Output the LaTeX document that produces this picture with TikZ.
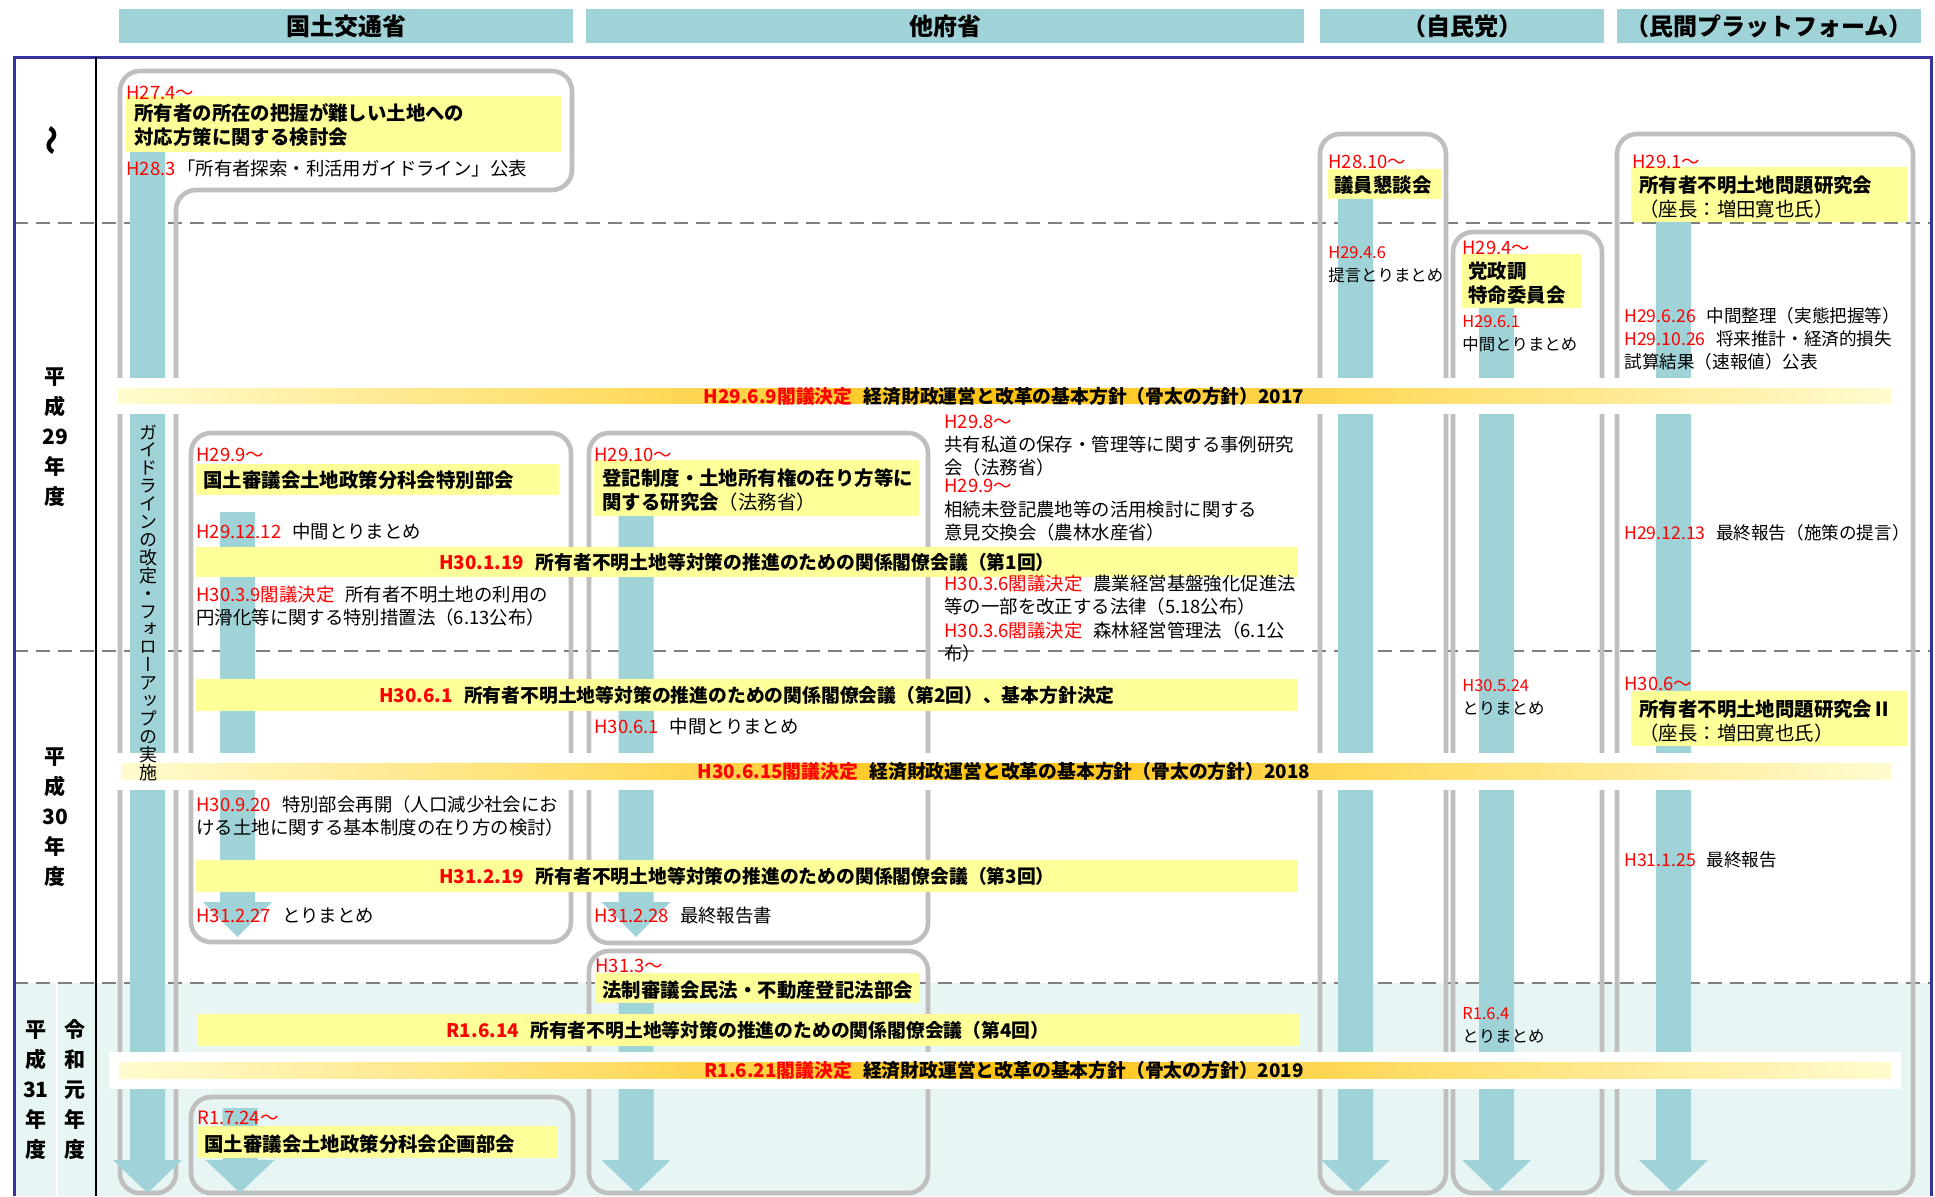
\documentclass[tikz,border=0pt]{standalone}
\usepackage{fontspec}
\usepackage{graphicx}
\setmainfont{Noto Sans CJK JP}
\newfontfamily\vjp[RawFeature={+vert}]{Noto Sans CJK JP}

\definecolor{jred}{HTML}{FF0000}
\definecolor{barc}{HTML}{A0D3D7}
\definecolor{ylw}{HTML}{FFFF99}
\definecolor{boxgray}{HTML}{BFBFBF}
\definecolor{navy}{HTML}{333399}
\definecolor{bgc}{HTML}{E8F5F5}
\definecolor{gpale}{HTML}{FFFCD0}
\definecolor{gorange}{HTML}{FFC20E}
\definecolor{dashg}{HTML}{808080}

\newcommand\hdate[1]{\textcolor{jred}{#1}\hspace{.6em}}
\newcommand\cyanbar[4]{\fill[barc] ({#1-17.5},#2) -- ({#1+17.5},#2) -- ({#1+17.5},#3) -- ({#1+34.5},#3) -- (#1,#4) -- ({#1-34.5},#3) -- ({#1-17.5},#3) -- cycle;}

\tikzset{
  hdr/.style={fill=barc, minimum height=17pt, inner sep=0pt, font=\fontsize{12}{14}\selectfont\bfseries},
  txt/.style={anchor=west, inner sep=0pt, align=left, font=\fontsize{9.2}{11.5}\selectfont},
  txtsm/.style={txt, font=\fontsize{8.2}{11.5}\selectfont},
  txtmd/.style={txt, font=\fontsize{8.8}{11.5}\selectfont},
  dlbl/.style={txt, text=jred},
  ttl/.style={txt, font=\fontsize{9.7}{12}\selectfont\bfseries},
  bandtxt/.style={inner sep=0pt, font=\fontsize{9.4}{11}\selectfont\bfseries},
  yrlbl/.style={inner sep=0pt, align=center, font=\fontsize{10.5}{15}\selectfont\bfseries},
  vtxt/.style={anchor=north, inner sep=0pt, align=center, font={\vjp\fontsize{9}{8.95}\selectfont}},
  boxline/.style={draw=boxgray, line width=2.3pt, rounded corners=10pt},
  ydash/.style={draw=dashg, line width=1.4pt, dash pattern=on 7pt off 4pt},
  gband/.style={draw=white, line width=5pt, left color=gpale, right color=gpale, middle color=gorange},
}

\begin{document}
\begin{tikzpicture}[x=0.5pt,y=-0.5pt]
    \useasboundingbox (0,0) rectangle (1935,1196);
    \fill[bgc] (14,983) rectangle (1931,1196);
    \draw[white, line width=0.8pt] (57,983) -- (57,1196);
    \draw[ydash] (14,223) -- (1931,223);
    \draw[ydash] (14,651) -- (1931,651);
    \draw[ydash] (14,983) -- (1931,983);
    \draw[navy, line width=1.5pt] (14,1196) -- (14,57) -- (1931,57) -- (1931,1196);
    \draw[line width=0.8pt] (96,57) -- (96,1196);

    \node[hdr, minimum width=227pt] (hMLIT) at (346,26) {国土交通省};
    \node[hdr, minimum width=359pt] (hGov) at (945,26) {他府省};
    \node[hdr, minimum width=142pt] (hLDP) at (1462,26) {（自民党）};
    \node[hdr, minimum width=152pt] (hPF) at (1769,26) {（民間プラットフォーム）};

    \node[inner sep=0pt, font=\fontsize{15}{15}\selectfont\bfseries] (r28) at (49,140) {\rotatebox{-90}{～}};
    \node[yrlbl] (r29) at (55,437) {平\\成\\29\\年\\度};
    \node[yrlbl] (r30) at (55,817) {平\\成\\30\\年\\度};
    \node[yrlbl] (r31) at (36,1090) {平\\成\\31\\年\\度};
    \node[yrlbl] (rR1) at (75,1090) {令\\和\\元\\年\\度};

    \draw[boxline] (120,1193) -- (120,71) -- (572,71) -- (572,190) -- (176,190) -- (176,1193) -- cycle;
    \draw[boxline] (191,433) rectangle (571,942);
    \draw[boxline] (191,1097) rectangle (573,1193);
    \draw[boxline] (589,433) rectangle (928,943);
    \draw[boxline] (589,951) rectangle (928,1193);
    \draw[boxline] (1320,134) rectangle (1446,1193);
    \draw[boxline] (1453,232) rectangle (1602,1193);
    \draw[boxline] (1617,134) rectangle (1913,1193);

    \cyanbar{147.5}{148}{1160}{1193}
    \cyanbar{237.5}{512}{902}{937}
    \cyanbar{240}{1108}{1160}{1193}
    \cyanbar{636}{514}{902}{937}
    \cyanbar{636}{1001}{1160}{1193}
    \cyanbar{1355.5}{197}{1160}{1193}
    \cyanbar{1496.5}{306}{1160}{1193}
    \cyanbar{1673.5}{220}{1160}{1193}

    \fill[ylw] (126,96) rectangle (561,152);
    \fill[ylw] (196,464) rectangle (559,495);
    \fill[ylw] (197,1126) rectangle (558,1158);
    \fill[ylw] (594,460) rectangle (919,516);
    \fill[ylw] (595,973) rectangle (920,1003);
    \fill[ylw] (1328,169) rectangle (1441,199);
    \fill[ylw] (1462,254) rectangle (1581,308);
    \fill[ylw] (1631,167) rectangle (1907,222);
    \fill[ylw] (1631,691) rectangle (1907,746);
    \fill[ylw] (196,547) rectangle (1298,577);
    \fill[ylw] (196,679) rectangle (1298,711);
    \fill[ylw] (196,860) rectangle (1298,892);
    \fill[ylw] (197,1014) rectangle (1299,1046);

    \path[gband] (113,383) rectangle (1896,409);
    \path[gband] (116,758) rectangle (1896,785);
    \path[gband] (114,1057) rectangle (1896,1084);

    \node[bandtxt] (hone17) at (1004,396) {\textcolor{jred}{H29.6.9閣議決定}\hspace{.6em}経済財政運営と改革の基本方針（骨太の方針）2017};
    \node[bandtxt] (hone18) at (1004,771) {\textcolor{jred}{H30.6.15閣議決定}\hspace{.6em}経済財政運営と改革の基本方針（骨太の方針）2018};
    \node[bandtxt] (hone19) at (1004,1070) {\textcolor{jred}{R1.6.21閣議決定}\hspace{.6em}経済財政運営と改革の基本方針（骨太の方針）2019};
    \node[bandtxt] (kaigi1) at (747,562) {\textcolor{jred}{H30.1.19}\hspace{.6em}所有者不明土地等対策の推進のための関係閣僚会議（第1回）};
    \node[bandtxt] (kaigi2) at (747,695) {\textcolor{jred}{H30.6.1}\hspace{.6em}所有者不明土地等対策の推進のための関係閣僚会議（第2回）、基本方針決定};
    \node[bandtxt] (kaigi3) at (747,876) {\textcolor{jred}{H31.2.19}\hspace{.6em}所有者不明土地等対策の推進のための関係閣僚会議（第3回）};
    \node[bandtxt] (kaigi4) at (748,1030) {\textcolor{jred}{R1.6.14}\hspace{.6em}所有者不明土地等対策の推進のための関係閣僚会議（第4回）};

    \node[dlbl] (d274) at (126,93) {H27.4～};
    \node[ttl] (kentou) at (134,125) {所有者の所在の把握が難しい土地への\\対応方策に関する検討会};
    \node[txt] (d283) at (126,168) {\textcolor{jred}{H28.3}\hspace{.1em}「所有者探索・利活用ガイドライン」公表};
    \node[vtxt] (guide) at (148,424) {ガ\\イ\\ド\\ラ\\イ\\ン\\の\\改\\定\\・\\フ\\ォ\\ロ\\ー\\ア\\ッ\\プ\\の\\実\\施};

    \node[dlbl] (d299) at (196,455) {H29.9～};
    \node[ttl] (tokubetsu) at (203,480) {国土審議会土地政策分科会特別部会};
    \node[txt] (d291212) at (196,532) {\hdate{H29.12.12}中間とりまとめ};
    \node[txt] (tokusoho) at (196,606.5) {\hdate{H30.3.9閣議決定}所有者不明土地の利用の\\円滑化等に関する特別措置法（6.13公布）};
    \node[txt] (saikai) at (196,816) {\hdate{H30.9.20}特別部会再開（人口減少社会にお\\ける土地に関する基本制度の在り方の検討）};
    \node[txt] (d31227) at (196,916) {\hdate{H31.2.27}とりまとめ};

    \node[dlbl] (dR1724) at (197,1118) {R1.7.24～};
    \node[ttl] (kikaku) at (204,1144) {国土審議会土地政策分科会企画部会};

    \node[dlbl] (d2910) at (594,455) {H29.10～};
    \node[ttl] (touki) at (602,490) {登記制度・土地所有権の在り方等に\\関する研究会{\mdseries（法務省）}};
    \node[txt] (d3061) at (594,727) {\hdate{H30.6.1}中間とりまとめ};
    \node[txt] (d31228) at (594,916) {\hdate{H31.2.28}最終報告書};
    \node[dlbl] (d313) at (595,966) {H31.3～};
    \node[ttl] (housei) at (602,990) {法制審議会民法・不動産登記法部会};

    \node[dlbl] (d298) at (944,422) {H29.8～};
    \node[txt] (shidou) at (944,456.5) {共有私道の保存・管理等に関する事例研究\\会（法務省）};
    \node[dlbl] (d299b) at (944,486) {H29.9～};
    \node[txt] (nouchi) at (944,521.5) {相続未登記農地等の活用検討に関する\\意見交換会（農林水産省）};
    \node[txt] (nougyou) at (944,595) {\hdate{H30.3.6閣議決定}農業経営基盤強化促進法\\等の一部を改正する法律（5.18公布）};
    \node[txt] (shinrin) at (944,641.5) {\hdate{H30.3.6閣議決定}森林経営管理法（6.1公\\布）};

    \node[dlbl] (d2810) at (1328,162) {H28.10～};
    \node[ttl] (giin) at (1334,185) {議員懇談会};
    \node[txtsm] (d2946) at (1328,264.5) {\textcolor{jred}{H29.4.6}\\提言とりまとめ};

    \node[dlbl] (d294) at (1462,248) {H29.4～};
    \node[ttl] (tokumei) at (1468,283.5) {党政調\\特命委員会};
    \node[txtsm] (d2961) at (1462,334) {\textcolor{jred}{H29.6.1}\\中間とりまとめ};
    \node[txtsm] (d30524) at (1462,697.5) {\textcolor{jred}{H30.5.24}\\とりまとめ};
    \node[txtsm] (dR164) at (1462,1025) {\textcolor{jred}{R1.6.4}\\とりまとめ};

    \node[dlbl] (d291) at (1632,162) {H29.1～};
    \node[ttl] (kenkyu1) at (1639,197) {所有者不明土地問題研究会\\{\mdseries（座長：増田寛也氏）}};
    \node[txtmd] (d29626) at (1624,316) {\hdate{H29.6.26}中間整理（実態把握等）};
    \node[txtmd] (d291026) at (1624,350.5) {\hdate{H29.10.26}将来推計・経済的損失\\試算結果（速報値）公表};
    \node[txtmd] (d291213) at (1624,533) {\hdate{H29.12.13}最終報告（施策の提言）};
    \node[dlbl] (d306) at (1624,684) {H30.6～};
    \node[ttl] (kenkyu2) at (1639,721) {所有者不明土地問題研究会Ⅱ\\{\mdseries（座長：増田寛也氏）}};
    \node[txtmd] (d31125) at (1624,860) {\hdate{H31.1.25}最終報告};
  \end{tikzpicture}
\end{document}
